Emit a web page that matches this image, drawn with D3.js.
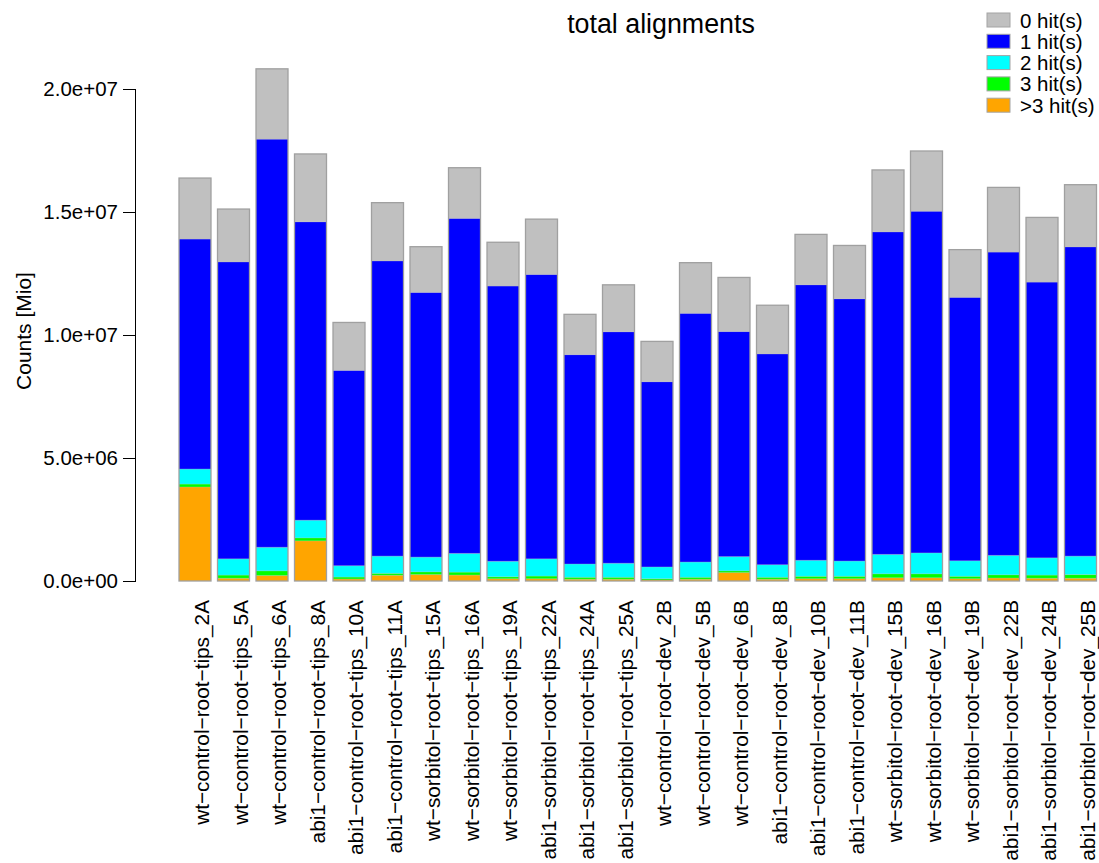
<!DOCTYPE html>
<html>
<head>
<meta charset="utf-8">
<script src="https://cdn.jsdelivr.net/npm/d3@7"></script>
<style>
  html, body { margin: 0; padding: 0; background: #fff; }
  svg { display: block; font-family: "Liberation Sans", Arial, Helvetica, sans-serif; }
</style>
</head>
<body>
<svg id="chart" width="1099" height="863"></svg>
<script>
// Samples (x axis)
const samples = [
  "wt−control−root−tips_2A", "wt−control−root−tips_5A", "wt−control−root−tips_6A",
  "abi1−control−root−tips_8A", "abi1−control−root−tips_10A", "abi1−control−root−tips_11A",
  "wt−sorbitol−root−tips_15A", "wt−sorbitol−root−tips_16A", "wt−sorbitol−root−tips_19A",
  "abi1−sorbitol−root−tips_22A", "abi1−sorbitol−root−tips_24A", "abi1−sorbitol−root−tips_25A",
  "wt−control−root−dev_2B", "wt−control−root−dev_5B", "wt−control−root−dev_6B",
  "abi1−control−root−dev_8B", "abi1−control−root−dev_10B", "abi1−control−root−dev_11B",
  "wt−sorbitol−root−dev_15B", "wt−sorbitol−root−dev_16B", "wt−sorbitol−root−dev_19B",
  "abi1−sorbitol−root−dev_22B", "abi1−sorbitol−root−dev_24B", "abi1−sorbitol−root−dev_25B"
];

// Read counts per number of hits, stacked bottom-up: >3, 3, 2, 1, 0
const hitsMore3 = [3.82e6, 1.1e5, 2.2e5, 1.63e6, 0.8e5, 2.3e5, 2.6e5, 2.4e5, 0.9e5, 0.9e5, 0.7e5, 0.7e5,
                   0.4e5, 0.7e5, 3.4e5, 0.7e5, 0.9e5, 0.9e5, 1.3e5, 1.3e5, 0.9e5, 1.2e5, 1.1e5, 1.1e5];
const hits3 = [1.2e5, 1.3e5, 1.9e5, 1.2e5, 0.8e5, 0.8e5, 1.1e5, 1.2e5, 0.8e5, 1.1e5, 0.8e5, 0.8e5,
               0.5e5, 0.8e5, 0.7e5, 0.8e5, 1.0e5, 1.0e5, 1.6e5, 1.6e5, 1.0e5, 1.3e5, 1.3e5, 1.5e5];
const hits2 = [6.1e5, 6.6e5, 9.6e5, 7.2e5, 4.6e5, 7.0e5, 6.0e5, 7.6e5, 6.3e5, 7.0e5, 5.4e5, 5.7e5,
               4.8e5, 6.2e5, 5.8e5, 5.1e5, 6.5e5, 6.2e5, 7.9e5, 8.5e5, 6.3e5, 7.9e5, 7.0e5, 7.5e5];
const hits1 = [9.35e6, 1.207e7, 1.659e7, 1.213e7, 7.94e6, 1.2e7, 1.076e7, 1.362e7, 1.119e7, 1.156e7, 8.51e6, 9.41e6,
               7.53e6, 1.011e7, 9.15e6, 8.57e6, 1.12e7, 1.066e7, 1.311e7, 1.389e7, 1.071e7, 1.233e7, 1.121e7, 1.257e7];
const hits0 = [2.48e6, 2.15e6, 2.86e6, 2.76e6, 1.95e6, 2.37e6, 1.86e6, 2.06e6, 1.78e6, 2.25e6, 1.64e6, 1.91e6,
               1.64e6, 2.06e6, 2.2e6, 1.98e6, 2.05e6, 2.17e6, 2.52e6, 2.45e6, 1.94e6, 2.63e6, 2.63e6, 2.53e6];

// Legend entries, top to bottom
const legendLabels = ["0 hit(s)", "1 hit(s)", "2 hit(s)", "3 hit(s)", ">3 hit(s)"];
const legendColors = ["#c0c0c0", "#0000ff", "#00ffff", "#00ff00", "#ffa500"];

const yTicks = [0, 5e6, 1e7, 1.5e7, 2e7];
const yTickLabels = ["0.0e+00", "5.0e+06", "1.0e+07", "1.5e+07", "2.0e+07"];

// Stack keys bottom-up
const stackKeys = ["more3", "h3", "h2", "h1", "h0"];
const stackColors = { more3: "#ffa500", h3: "#00ff00", h2: "#00ffff", h1: "#0000ff", h0: "#c0c0c0" };

const rows = samples.map((s, i) => ({
  sample: s,
  more3: hitsMore3[i], h3: hits3[i], h2: hits2[i], h1: hits1[i], h0: hits0[i]
}));

const svg = d3.select("#chart");

const x = d3.scaleBand()
  .domain(samples)
  .range([179, 179 + 24 * 38.5 - 6.5])
  .paddingInner(6.5 / 38.5)
  .paddingOuter(0);

const y = d3.scaleLinear().domain([0, 2e7]).range([581, 89]);

const series = d3.stack().keys(stackKeys)(rows);

// Stacked segments
const g = svg.append("g");
g.selectAll("g.layer")
  .data(series)
  .join("g")
  .attr("class", "layer")
  .attr("fill", d => stackColors[d.key])
  .selectAll("rect")
  .data(d => d)
  .join("rect")
  .attr("x", d => x(d.data.sample))
  .attr("y", d => y(d[1]))
  .attr("width", x.bandwidth())
  .attr("height", d => y(d[0]) - y(d[1]));

// Thin separators between segments
g.selectAll("g.sep")
  .data(series.slice(0, -1))
  .join("g")
  .attr("class", "sep")
  .selectAll("line")
  .data(d => d)
  .join("line")
  .attr("x1", d => x(d.data.sample))
  .attr("x2", d => x(d.data.sample) + x.bandwidth())
  .attr("y1", d => y(d[1]))
  .attr("y2", d => y(d[1]))
  .attr("stroke", "#b8b8b8")
  .attr("stroke-opacity", 0.35)
  .attr("stroke-width", 1);

// Bar outlines
g.selectAll("rect.outline")
  .data(series[series.length - 1])
  .join("rect")
  .attr("class", "outline")
  .attr("x", d => x(d.data.sample))
  .attr("y", d => y(d[1]))
  .attr("width", x.bandwidth())
  .attr("height", d => y(0) - y(d[1]))
  .attr("fill", "none")
  .attr("stroke", "#a0a0a0")
  .attr("stroke-width", 1.3);

// Y axis
const yAxis = d3.axisLeft(y)
  .tickValues(yTicks)
  .tickFormat((d, i) => yTickLabels[i])
  .tickSize(13)
  .tickPadding(5);

const ya = svg.append("g")
  .attr("transform", "translate(136,0)")
  .call(yAxis);
ya.select(".domain").attr("d", `M-0.5,${y(2e7)}V${y(0)}`).attr("stroke", "#000").attr("stroke-width", 1);
ya.selectAll(".tick line").attr("stroke", "#000");
ya.selectAll(".tick text")
  .attr("font-size", "20.5px")
  .attr("fill", "#000")
  .attr("font-family", "'Liberation Sans', Arial, sans-serif");

// Y axis title
svg.append("text")
  .attr("transform", "translate(31,331) rotate(-90)")
  .attr("text-anchor", "middle")
  .attr("font-size", "21px")
  .attr("fill", "#000")
  .text("Counts [Mio]");

// X labels, perpendicular to the axis
svg.append("g")
  .selectAll("text")
  .data(samples)
  .join("text")
  .attr("transform", d => `translate(${x(d) + x.bandwidth() / 2 + 14},600) rotate(-90)`)
  .attr("text-anchor", "end")
  .attr("font-size", "20.8px")
  .attr("fill", "#000")
  .text(d => d);

// Title
svg.append("text")
  .attr("x", 661)
  .attr("y", 33)
  .attr("text-anchor", "middle")
  .attr("font-size", "26.8px")
  .attr("fill", "#000")
  .text("total alignments");

// Legend
const legend = svg.append("g");
const leg = legend.selectAll("g")
  .data(legendLabels)
  .join("g")
  .attr("transform", (d, i) => `translate(0,${20 + i * 21.3})`);
leg.append("rect")
  .attr("x", 987)
  .attr("y", -7)
  .attr("width", 23)
  .attr("height", 14)
  .attr("fill", (d, i) => legendColors[i])
  .attr("stroke", "#a4a4a4")
  .attr("stroke-width", 1);
leg.append("text")
  .attr("x", 1020)
  .attr("y", 7.5)
  .attr("font-size", "20.5px")
  .attr("fill", "#000")
  .text(d => d);
</script>
</body>
</html>
